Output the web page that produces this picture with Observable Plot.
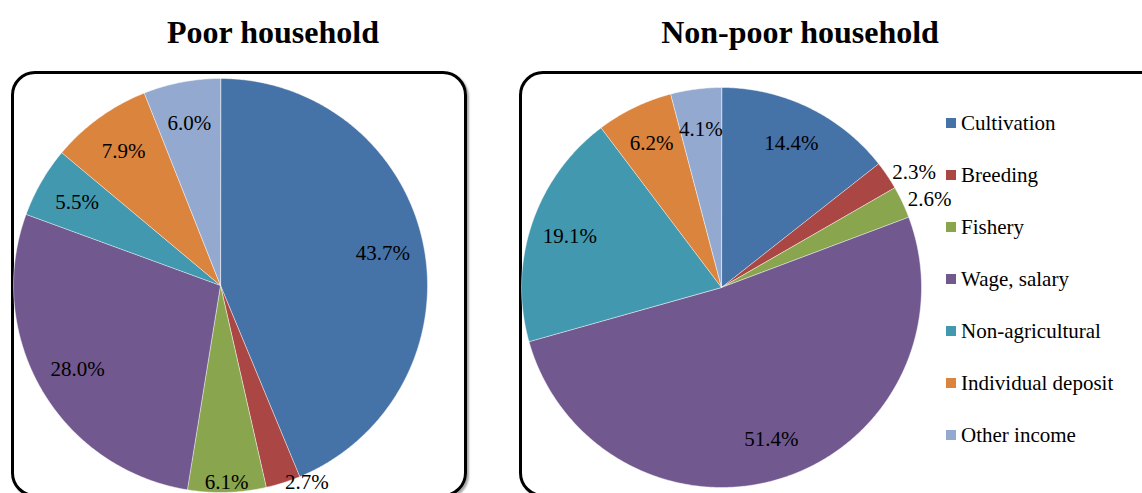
<!DOCTYPE html>
<html><head><meta charset="utf-8">
<script src="https://cdn.jsdelivr.net/npm/d3@7"></script>
<script src="https://cdn.jsdelivr.net/npm/@observablehq/plot@0.6"></script>
<style>
body{margin:0;background:#fff;}
#root{position:relative;width:1142px;height:493px;overflow:hidden;font-family:"Liberation Serif","Times New Roman",serif;color:#000;}
.title{position:absolute;top:12px;font-weight:bold;font-size:32px;text-align:center;width:500px;line-height:40px}
.frame{position:absolute;border:3px solid #000;border-radius:24px;box-sizing:border-box;box-shadow:2px 2px 2px rgba(0,0,0,0.35)}
.pie{position:absolute}
#legend{position:absolute;left:946px;top:110px;}
.item{display:flex;align-items:center;height:26px;margin-bottom:26px;font-size:21px;line-height:26px}
.sw{width:10px;height:10px;margin-right:5px}
</style></head>
<body>
<div id="root">
  <div class="title" style="left:23px">Poor household</div>
  <div class="title" style="left:550px">Non-poor household</div>
  <div class="frame" style="left:11px;top:71px;width:456px;height:426px"></div>
  <div class="frame" style="left:519px;top:71px;width:660px;height:426px"></div>
  <div class="pie" id="poor" style="left:-10px;top:55px"></div>
  <div class="pie" id="nonpoor" style="left:491px;top:57px"></div>
  <div id="legend"></div>
</div>
<script>
const categories = ["Cultivation","Breeding","Fishery","Wage, salary","Non-agricultural","Individual deposit","Other income"];
const poorValues = [43.7, 2.7, 6.1, 28.0, 5.5, 7.9, 6.0];
const nonPoorValues = [14.4, 2.3, 2.6, 51.4, 19.1, 6.2, 4.1];
const colors = ["#4572A7","#AA4643","#89A54E","#71588F","#4198AF","#DB843D","#93A9CF"];

function slices(values){
  const total = d3.sum(values);
  let acc = 0;
  return values.map((v,i)=>{
    const a0 = acc/total*2*Math.PI; acc += v; const a1 = acc/total*2*Math.PI;
    return {category: categories[i], value: v, a0, a1, mid: (a0+a1)/2};
  });
}
function polygons(sl){
  const pts = [];
  for (const s of sl){
    pts.push({category: s.category, x: 0, y: 0});
    const n = Math.max(2, Math.ceil((s.a1-s.a0)/(Math.PI/360)));
    for (let k=0;k<=n;k++){
      const a = s.a0 + (s.a1-s.a0)*k/n;
      pts.push({category: s.category, x: Math.sin(a), y: Math.cos(a)});
    }
  }
  return pts;
}
// label placement: small slices outside (left-anchored), others inside; clamped to stay inside frame
function labels(sl, R){
  return sl.map(s=>{
    const outside = s.value < 3;
    let r = outside ? (R + 6)/R : (Math.abs(s.mid - Math.PI) < 0.2 ? 0.96 : 0.8);
    const y = Math.max(Math.cos(s.mid)*r, -0.95);
    return {text: s.value.toFixed(1)+"%", x: Math.sin(s.mid)*r, y, outside};
  });
}
function pie(values, R){
  const size = 460;
  const s = size/2/R;
  const sl = slices(values);
  const lab = labels(sl, R);
  return Plot.plot({
    width: size, height: size, margin: 0,
    x: {domain: [-s, s], axis: null},
    y: {domain: [-s, s], axis: null},
    color: {domain: categories, range: colors},
    style: {background: "transparent", overflow: "visible", fontFamily: "'Liberation Serif', serif"},
    marks: [
      Plot.line(polygons(sl), {x: "x", y: "y", z: "category", fill: "category", stroke: "white", strokeWidth: 0.8, strokeOpacity: 0.6, curve: "linear-closed"}),
      Plot.text(lab.filter(d => !d.outside), {x: "x", y: "y", text: "text", fontSize: 21, fill: "black"}),
      Plot.text(lab.filter(d => d.outside), {x: "x", y: "y", text: "text", fontSize: 21, fill: "black", textAnchor: "start"})
    ]
  });
}
document.getElementById("poor").appendChild(pie(poorValues, 207));
document.getElementById("nonpoor").appendChild(pie(nonPoorValues, 200));

const leg = document.getElementById("legend");
categories.forEach((c,i)=>{
  const it = document.createElement("div"); it.className = "item";
  const sw = document.createElement("div"); sw.className = "sw"; sw.style.background = colors[i];
  const t = document.createElement("span"); t.textContent = c;
  it.appendChild(sw); it.appendChild(t); leg.appendChild(it);
});
</script>
</body></html>
